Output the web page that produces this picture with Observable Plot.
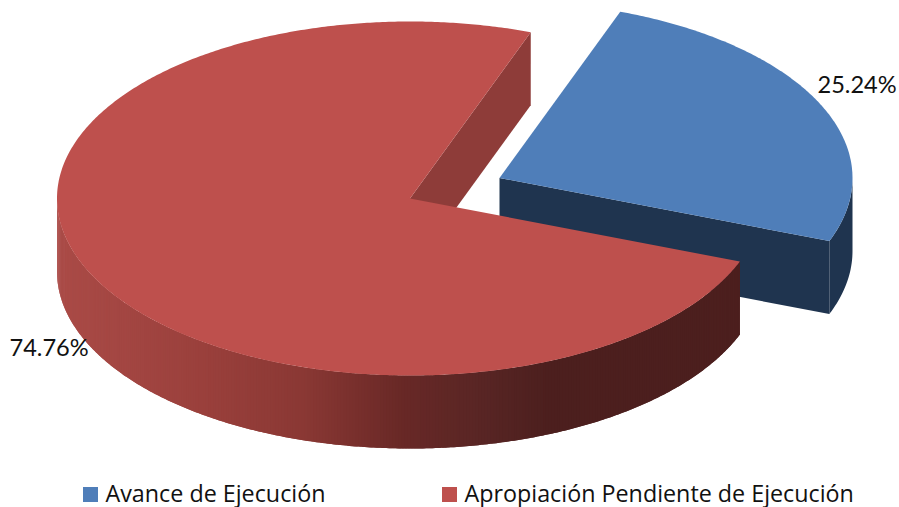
<!DOCTYPE html>
<html><head><meta charset="utf-8">
<script src="https://cdn.jsdelivr.net/npm/d3@7"></script>
<script src="https://cdn.jsdelivr.net/npm/@observablehq/plot@0.6"></script>
<style>
html,body{margin:0;padding:0;background:#fff}
svg{display:block}
</style></head><body>
<div id="chart"></div>
<script>
const categories = ["Avance de Ejecución", "Apropiación Pendiente de Ejecución"];
const shares = [25.24, 74.76];
const topColors = ["#4f7eb9", "#be504d"];
const wallColors = ["#1f344f", "#8e3c39"];
const rimStops = [[57,"#aa4b47"],[200,"#9a403c"],[300,"#8a3834"],[400,"#682826"],[470,"#5a2625"],[545,"#4c1f1e"],[740,"#4c1f1e"]];

const W = 899, H = 507, rx = 353, ry = 177, depth = 73, firstAngle = 20;
const centers = [[499,177.5],[409.5,198]];
const total = d3.sum(shares);
const a0 = firstAngle, a1 = a0 + 360*shares[0]/total, a2 = a0 + 360;
const pt = (c,a,dz=0)=>{const r=a*Math.PI/180;return {x:c[0]+rx*Math.sin(r),y:c[1]-ry*Math.cos(r)+dz};};
const arc = (c,from,to,dz=0)=>{const n=Math.max(2,Math.ceil(Math.abs(to-from)*2));return d3.range(n+1).map(i=>pt(c,from+(to-from)*i/n,dz));};
const shape = (id,color,pts)=>[...pts,pts[0]].map(p=>({...p,id,color}));
const apex = (c,dz=0)=>({x:c[0],y:c[1]+dz});
const rimColor = d3.scaleLinear().domain(rimStops.map(d=>d[0])).range(rimStops.map(d=>d[1])).clamp(true);

let polys = [];
const [bc,rc] = [centers[0],centers[1]];
polys.push(shape("bw",wallColors[0],[apex(bc),pt(bc,a1),pt(bc,a1,depth),apex(bc,depth)]));
polys.push(shape("br",wallColors[0],[...arc(bc,90,a1),...arc(bc,a1,90,depth)]));
polys.push(shape("bt",topColors[0],[apex(bc),...arc(bc,a0,a1)]));
polys.push(shape("rw",wallColors[1],[apex(rc),pt(rc,a0),pt(rc,a0,depth),apex(rc,depth)]));
// outer rim of the large wedge: overlapping shaded strips, painted from right to left
const steps = d3.range(a1,270,0.5).concat(270);
d3.pairs(steps).forEach(([p,q],i)=>{
  const from = Math.max(a1,p-0.5);
  polys.push(shape("r"+i,rimColor(pt(rc,(p+q)/2).x),[...arc(rc,from,q),...arc(rc,q,from,depth)]));
});
polys.push(shape("rt",topColors[1],[apex(rc),...arc(rc,a1,a2)]));
const points = polys.flat();

const labels = [
  {x:817,y:85,text:d3.format(".2f")(shares[0])+"%"},
  {x:9,y:348,text:d3.format(".2f")(shares[1])+"%"}
];
const legendItems = categories.map((name,i)=>({name,color:topColors[i],sx:[83,442][i],tx:[105,464][i]}));

const plot = Plot.plot({
  width:W,height:H,margin:0,
  x:{domain:[0,W],range:[0,W],axis:null},
  y:{domain:[0,H],range:[0,H],axis:null},
  style:{background:"#fff"},
  marks:[
    Plot.line(points,{x:"x",y:"y",z:"id",fill:"color",stroke:"none",curve:"linear"}),
    Plot.text(labels,{x:"x",y:"y",text:"text",textAnchor:"start",fontSize:23.6,fontFamily:"Lato",fill:"#111"}),
    Plot.rect(legendItems,{x1:"sx",x2:d=>d.sx+15,y1:()=>487,y2:()=>502,fill:"color"}),
    Plot.text(legendItems,{x:"tx",y:()=>494,text:"name",textAnchor:"start",fontSize:23.3,fontFamily:"Open Sans",fill:"#111"})
  ]
});
document.getElementById("chart").append(plot);
</script></body></html>
